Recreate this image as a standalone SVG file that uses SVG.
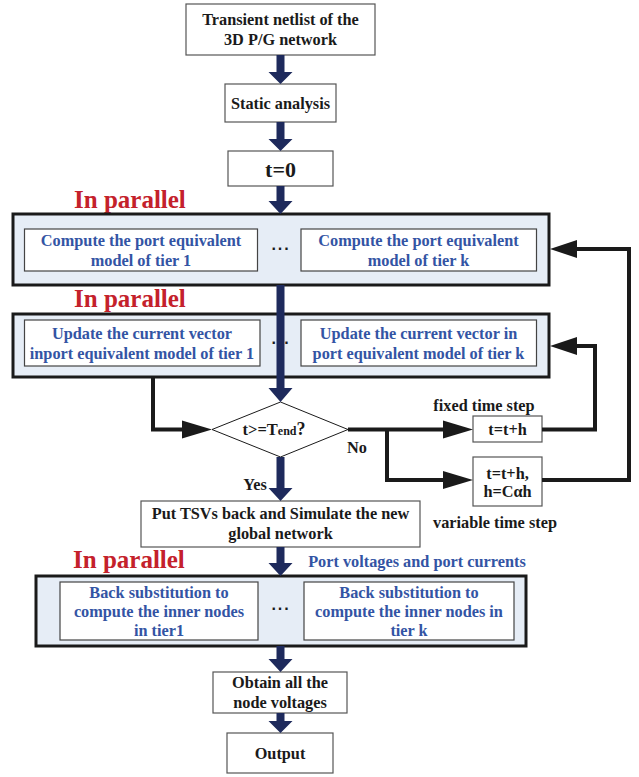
<svg xmlns="http://www.w3.org/2000/svg" width="639" height="777" viewBox="0 0 639 777">
<defs>
<style>
.box{fill:#fff;stroke:#555;stroke-width:1.2}
.panel{fill:#e6edf6;stroke:#1a1a1a;stroke-width:3}
.ibox{fill:#fff;stroke:#444;stroke-width:1.2}
.t{font-family:"Liberation Serif","Times New Roman",serif;font-weight:bold;font-size:16.3px;fill:#1a1a1a;text-anchor:middle}
.b{font-family:"Liberation Serif","Times New Roman",serif;font-weight:bold;font-size:16.3px;fill:#3354a4;text-anchor:middle}
.r{font-family:"Liberation Serif","Times New Roman",serif;font-weight:bold;font-size:25px;fill:#c4212b}
.dots{font-family:"Liberation Sans",Arial,sans-serif;font-weight:bold;font-size:16px;fill:#1a1a1a;text-anchor:middle;letter-spacing:1px}
.nav{fill:#1e2a5c}
.blk{fill:none;stroke:#1a1a1a;stroke-width:4;stroke-linejoin:miter}
.head{fill:#1a1a1a}
</style>
</defs>

<g id="n-transient"><rect class="box" x="186" y="4" width="189" height="51"/><text class="t" x="280.5" y="25">Transient netlist of the</text><text class="t" x="280.5" y="45">3D P/G network</text></g>
<g id="n-static"><rect class="box" x="225" y="84" width="111" height="38"/><text class="t" x="280.5" y="108.5">Static analysis</text></g>
<g id="n-t0"><rect class="box" x="228" y="151" width="105" height="35"/><text class="t" x="280.5" y="176.5" style="font-size:22px">t=0</text></g>

<g id="p1">
<text class="r" x="74" y="208">In parallel</text>
<rect class="panel" x="13" y="214" width="536" height="71"/>
<rect class="ibox" x="24.5" y="229" width="233" height="42"/>
<text class="b" x="141" y="245.5">Compute the port equivalent</text><text class="b" x="141" y="265.5">model of tier 1</text>
<text class="dots" x="281" y="254">···</text>
<rect class="ibox" x="301" y="229" width="235.5" height="42"/>
<text class="b" x="418.5" y="245.5">Compute the port equivalent</text><text class="b" x="418.5" y="265.5">model of tier k</text>
</g>

<g id="p2">
<text class="r" x="74" y="307">In parallel</text>
<rect class="panel" x="13" y="314" width="536" height="63"/>
<rect class="ibox" x="24.5" y="320" width="235.5" height="46"/>
<text class="b" x="142" y="338.5">Update the current vector</text><text class="b" x="142" y="358.5">inport equivalent model of tier 1</text>
<text class="dots" x="281" y="348">···</text>
<rect class="ibox" x="301" y="320" width="235.5" height="46"/>
<text class="b" x="418.5" y="338.5">Update the current vector in</text><text class="b" x="418.5" y="358.5">port equivalent model of tier k</text>
</g>

<g id="n-decision"><polygon points="280.5,402 348,429.5 280.5,457 212,429.5" fill="#fff" stroke="#1a1a1a" stroke-width="1"/>
<text class="t" x="274" y="435" style="font-size:16.5px">t&gt;=T<tspan style="font-size:12px">end</tspan><tspan style="font-size:18px">?</tspan></text></g>

<g id="n-fixed"><rect class="box" x="473" y="416" width="69" height="26"/><text class="t" x="507.5" y="435">t=t+h</text></g>
<g id="n-var"><rect class="box" x="473" y="457" width="69" height="49"/><text class="t" x="507.5" y="478.5">t=t+h,</text><text class="t" x="507.5" y="497">h=Cαh</text></g>

<g id="n-put"><rect class="box" x="141" y="501" width="279" height="46"/><text class="t" x="280.5" y="519">Put TSVs back and Simulate the new</text><text class="t" x="280.5" y="539">global network</text></g>

<g id="p3">
<text class="r" x="73" y="568">In parallel</text>
<rect class="panel" x="36" y="576" width="490" height="70"/>
<rect class="ibox" x="60" y="582" width="198" height="58"/>
<text class="b" x="159" y="597.5">Back substitution to</text><text class="b" x="159" y="616.5">compute the inner nodes</text><text class="b" x="159" y="635.5">in tier1</text>
<text class="dots" x="281" y="614">···</text>
<rect class="ibox" x="304" y="582" width="210" height="58"/>
<text class="b" x="409" y="597.5">Back substitution to</text><text class="b" x="409" y="616.5">compute the inner nodes in</text><text class="b" x="409" y="635.5">tier k</text>
</g>

<g id="n-obtain"><rect class="box" x="213" y="672" width="134" height="41"/><text class="t" x="280" y="688">Obtain all the</text><text class="t" x="280" y="708">node voltages</text></g>
<g id="n-output"><rect class="box" x="227" y="733" width="106" height="40"/><text class="t" x="280" y="758.5">Output</text></g>

<g id="connectors">
<g class="nav">
<path d="M276.5,55 h8 v17 h8 l-12,12 l-12,-12 h8z"/>
<path d="M276.5,122 h8 v17 h8 l-12,12 l-12,-12 h8z"/>
<path d="M276.5,186 h8 v15 h8 l-12,13 l-12,-13 h8z"/>
<path d="M276.5,285 h8 v103 h8 l-12,14 l-12,-14 h8z"/>
<path d="M276.5,457 h8 v31 h8 l-12,13 l-12,-13 h8z"/>
<path d="M276.5,547 h8 v16 h8 l-12,13 l-12,-13 h8z"/>
<path d="M276.5,646 h8 v13 h8 l-12,13 l-12,-13 h8z"/>
<path d="M276.5,713 h8 v8 h8 l-12,12 l-12,-12 h8z"/>
</g>
<path class="blk" d="M153,377 V429.5 H184"/>
<polygon class="head" points="182,420.5 212,429.5 182,438.5"/>
<path class="blk" d="M348,429.5 H445"/>
<polygon class="head" points="443,420.5 473,429.5 443,438.5"/>
<path class="blk" d="M387,429.5 V480 H445"/>
<polygon class="head" points="443,471 473,480 443,489"/>
<path class="blk" d="M542,429.5 H595 V346 H575"/>
<polygon class="head" points="577,337 550,346 577,355"/>
<path class="blk" d="M542,480 H629 V249 H575"/>
<polygon class="head" points="577,240 550,249 577,258"/>
</g>

<g id="labels">
<text class="t" x="484" y="410.5">fixed time step</text>
<text class="t" x="495" y="527.5">variable time step</text>
<text class="t" x="357" y="453">No</text>
<text class="t" x="255" y="490">Yes</text>
<text class="b" x="417" y="567">Port voltages and port currents</text>
</g>
</svg>
